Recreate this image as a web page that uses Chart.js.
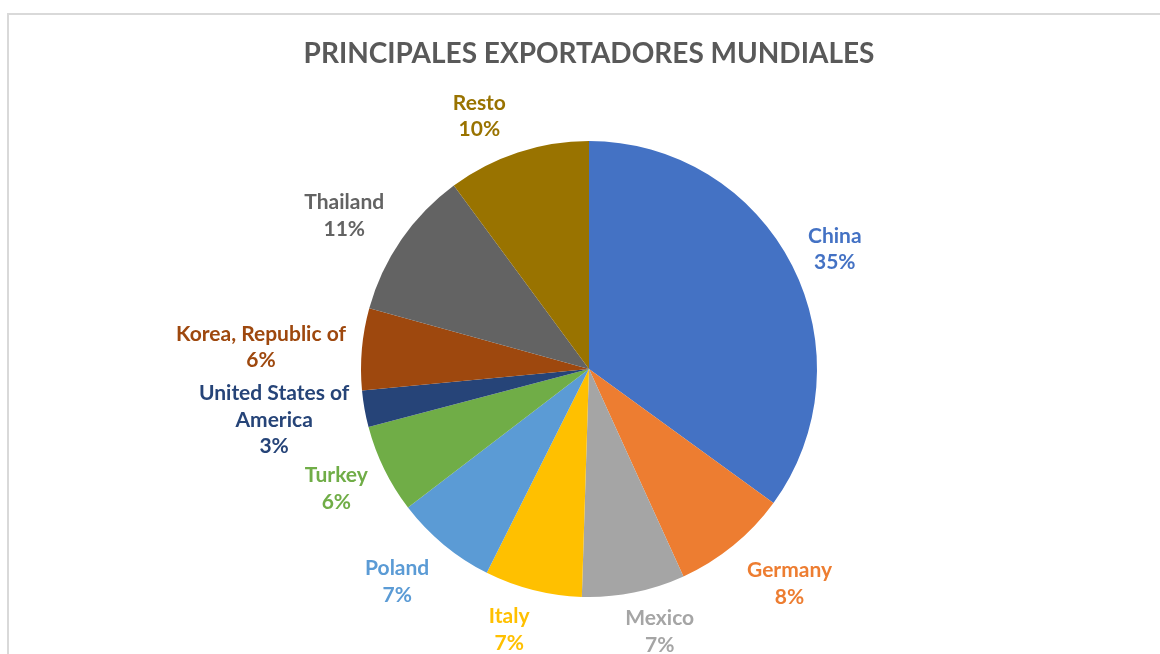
<!DOCTYPE html>
<html>
<head>
<meta charset="utf-8">
<script src="https://cdn.jsdelivr.net/npm/chart.js@4"></script>
<style>
  body { margin: 0; background: #fff; }
  #wrap { position: relative; width: 1160px; height: 654px; overflow: hidden; }
  #frame { position: absolute; left: 7px; top: 13px; width: 1200px; height: 700px;
           border-top: 2px solid #d9d9d9; border-left: 2px solid #d9d9d9; }
  #chart { position: absolute; left: 0; top: 0; }
</style>
</head>
<body>
<div id="wrap">
  <div id="frame"></div>
  <canvas id="chart" width="1160" height="654"></canvas>
</div>
<script>
/*_____________________DATA____________________*/

const title = 'PRINCIPALES EXPORTADORES MUNDIALES';
const countries = ['China', 'Germany', 'Mexico', 'Italy', 'Poland', 'Turkey',
                   'United States of America', 'Korea, Republic of', 'Thailand', 'Resto'];
const share = [35.0, 8.2, 7.3, 6.9, 7.2, 6.3, 2.6, 5.8, 10.6, 10.1];
const colors = ['#4472C4', '#ED7D31', '#A5A5A5', '#FFC000', '#5B9BD5',
                '#70AD47', '#264478', '#9E480E', '#636363', '#997300'];

const FONT = "Lato, 'Open Sans', sans-serif";

/*_____________________LABELS_PLUGIN____________________*/

// shift of each label from a point 40px outside the rim (Excel "best fit")
const labelShift = [[7, 2], [31, 7], [18, 0], [-14, 1], [-21, 6],
                    [-12, 2], [-51, 4], [-61, 2], [-24, -1], [-26, 2]];

function wrapText(ctx, text, maxW) {
  const words = text.split(' ');
  const lines = [];
  let cur = '';
  words.forEach(function(w) {
    const t = cur ? cur + ' ' + w : w;
    if (ctx.measureText(t).width > maxW && cur) { lines.push(cur); cur = w; }
    else cur = t;
  });
  lines.push(cur);
  return lines;
}

const pieLabels = {
  id: 'pieLabels',
  afterDatasetsDraw(chart) {
    const ctx = chart.ctx;
    const meta = chart.getDatasetMeta(0);
    const vals = chart.data.datasets[0].data;
    const total = vals.reduce((a, b) => a + b, 0);
    ctx.save();
    ctx.textAlign = 'center';
    ctx.textBaseline = 'middle';

    // title, centred over the pie (the built-in title squeezes it to the chart area)
    const ca = chart.chartArea;
    ctx.font = 'bold 28px ' + FONT;
    ctx.fillStyle = '#595959';
    ctx.fillText(title, (ca.left + ca.right) / 2, 54);

    ctx.font = 'bold 21px ' + FONT;
    meta.data.forEach(function(arc, i) {
      const p = arc.getProps(['x', 'y', 'startAngle', 'endAngle', 'outerRadius'], true);
      const mid = (p.startAngle + p.endAngle) / 2;
      const r = p.outerRadius + 40;
      const cx = p.x + Math.cos(mid) * r + labelShift[i][0];
      const cy = p.y + Math.sin(mid) * r + labelShift[i][1];
      const lines = wrapText(ctx, chart.data.labels[i], 175);
      lines.push(Math.round(vals[i] / total * 100) + '%');
      const lh = 26.5;
      const y0 = cy - (lines.length - 1) * lh / 2;
      ctx.fillStyle = colors[i];
      lines.forEach(function(l, k) { ctx.fillText(l, cx, y0 + k * lh); });
    });
    ctx.restore();
  }
};

/*_____________________PIE____________________*/

const chart_el = document.getElementById('chart');
new Chart(chart_el, {
  type: 'pie',
  data: {
    labels: countries,
    datasets: [
      {
        data: share,
        backgroundColor: colors,
        borderWidth: 0,
      }
    ]
  },
  options: {
    responsive: false,
    animation: false,
    layout: { padding: { left: 361, right: 343, top: 141, bottom: 57 } },
    plugins: {
      legend: { display: false },
      tooltip: { enabled: false },
      title: { display: false },
    },
  },
  plugins: [pieLabels],
});
</script>
</body>
</html>
